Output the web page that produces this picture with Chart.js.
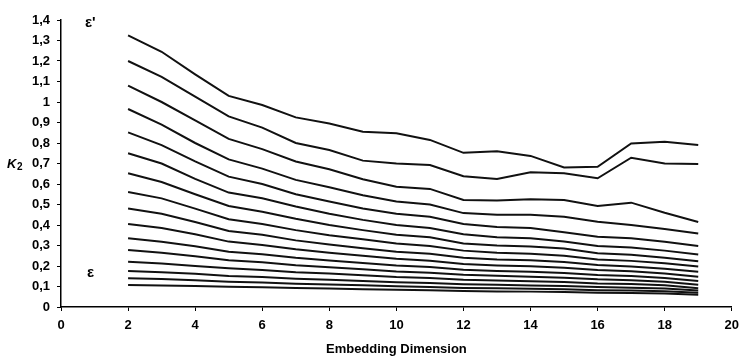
<!DOCTYPE html>
<html><head><meta charset="utf-8">
<script src="https://cdn.jsdelivr.net/npm/chart.js@4.4.0/dist/chart.umd.min.js"></script>
<style>html,body{margin:0;padding:0;background:#fff;}</style>
</head><body>
<canvas id="c" width="746" height="357" style="width:746px;height:357px;display:block"></canvas>
<script>
// Embedding dimensions (x)
const dims = [2,3,4,5,6,7,8,9,10,11,12,13,14,15,16,17,18,19];
// K2 curves, from largest epsilon' (top) down to smallest epsilon (bottom)
const L1  = [1.325,1.245,1.135,1.030,0.985,0.925,0.895,0.855,0.848,0.815,0.752,0.760,0.737,0.681,0.684,0.798,0.806,0.790];
const L2  = [1.200,1.123,1.026,0.930,0.875,0.800,0.766,0.714,0.700,0.693,0.638,0.624,0.657,0.652,0.628,0.728,0.700,0.698];
const L3  = [1.080,1.000,0.910,0.820,0.770,0.710,0.672,0.623,0.587,0.576,0.522,0.520,0.525,0.522,0.493,0.509,0.460,0.415];
const L4  = [0.966,0.890,0.800,0.720,0.675,0.620,0.584,0.545,0.515,0.500,0.458,0.450,0.450,0.440,0.416,0.400,0.380,0.358];
const L5  = [0.852,0.790,0.710,0.636,0.600,0.550,0.515,0.480,0.455,0.440,0.405,0.390,0.385,0.365,0.343,0.335,0.318,0.298];
const L6  = [0.750,0.700,0.625,0.558,0.530,0.490,0.455,0.425,0.400,0.385,0.355,0.340,0.335,0.320,0.297,0.290,0.275,0.256];
const L7  = [0.652,0.610,0.550,0.493,0.465,0.430,0.400,0.375,0.353,0.340,0.310,0.300,0.295,0.285,0.262,0.255,0.240,0.223];
const L8  = [0.561,0.530,0.480,0.428,0.405,0.375,0.350,0.330,0.310,0.298,0.275,0.265,0.260,0.250,0.232,0.225,0.213,0.198];
const L9  = [0.481,0.455,0.415,0.371,0.352,0.325,0.305,0.287,0.270,0.260,0.240,0.232,0.228,0.220,0.205,0.198,0.187,0.172];
const L10 = [0.405,0.385,0.355,0.319,0.303,0.282,0.265,0.250,0.235,0.226,0.210,0.203,0.199,0.192,0.180,0.174,0.163,0.148];
const L11 = [0.335,0.318,0.296,0.270,0.257,0.240,0.227,0.215,0.202,0.195,0.182,0.176,0.172,0.166,0.156,0.151,0.142,0.127];
const L12 = [0.278,0.265,0.248,0.228,0.218,0.204,0.194,0.184,0.173,0.167,0.157,0.152,0.148,0.143,0.135,0.131,0.123,0.108];
const L13 = [0.221,0.212,0.200,0.189,0.181,0.170,0.163,0.155,0.146,0.141,0.133,0.129,0.126,0.122,0.115,0.112,0.106,0.092];
const L14 = [0.176,0.170,0.162,0.151,0.146,0.138,0.133,0.127,0.121,0.117,0.111,0.108,0.105,0.102,0.097,0.094,0.090,0.080];
const L15 = [0.140,0.136,0.130,0.123,0.119,0.114,0.110,0.106,0.101,0.098,0.093,0.091,0.089,0.086,0.082,0.080,0.077,0.069];
const L16 = [0.107,0.105,0.102,0.099,0.096,0.093,0.090,0.087,0.084,0.082,0.078,0.076,0.075,0.073,0.070,0.068,0.066,0.060];
const series = [L1,L2,L3,L4,L5,L6,L7,L8,L9,L10,L11,L12,L13,L14,L15,L16];
const xTitle = 'Embedding Dimension';
const topLabel = "ε'";
const bottomLabel = 'ε';

const FONT = '"Liberation Sans", Arial, sans-serif';

const textPlugin = {
  id: 'texts',
  afterDraw(chart) {
    const ctx = chart.ctx;
    ctx.save();
    ctx.fillStyle = '#000';
    ctx.textBaseline = 'alphabetic';
    ctx.textAlign = 'left';
    ctx.font = 'bold 15px ' + FONT;
    ctx.fillText(topLabel, 85, 27);
    ctx.fillText(bottomLabel, 87, 277);
    // Y axis title K2
    ctx.font = 'italic bold 13px ' + FONT;
    ctx.fillText('K', 7, 168);
    ctx.font = 'bold 10px ' + FONT;
    ctx.fillText('2', 17, 170);
    ctx.restore();
  }
};

new Chart(document.getElementById('c'), {
  type: 'line',
  data: {
    datasets: series.map((s, i) => ({
      label: 'eps' + (i + 1),
      data: dims.map((d, j) => ({x: d, y: s[j]})),
      borderColor: '#111',
      borderWidth: 2,
      pointRadius: 0,
      tension: 0,
      fill: false
    }))
  },
  options: {
    responsive: false,
    animation: false,
    devicePixelRatio: 1,
    layout: {padding: {top: 20, right: 9, left: 0, bottom: 0}},
    plugins: {legend: {display: false}, tooltip: {enabled: false}},
    scales: {
      x: {
        type: 'linear', min: 0, max: 20,
        afterFit(scale) { scale.height = 50; },
        ticks: {stepSize: 2, color: '#000', padding: 7, maxRotation: 0,
                font: {family: FONT, size: 13, weight: 'bold'}},
        grid: {display: true, drawOnChartArea: false, drawTicks: true, tickLength: 4, color: '#000', lineWidth: 1},
        border: {display: true, color: '#000', width: 1.5},
        title: {display: true, text: xTitle, color: '#000', padding: {top: 0, bottom: 0},
                font: {family: FONT, size: 13, weight: 'bold'}}
      },
      y: {
        type: 'linear', min: 0, max: 1.4,
        afterFit(scale) { scale.width = 61; },
        ticks: {stepSize: 0.1, color: '#000', padding: 7,
                font: {family: FONT, size: 13, weight: 'bold'},
                callback: v => String(Math.round(v * 10) / 10).replace('.', ',')},
        grid: {display: true, drawOnChartArea: false, drawTicks: true, tickLength: 4, color: '#000', lineWidth: 1},
        border: {display: true, color: '#000', width: 1.5}
      }
    }
  },
  plugins: [textPlugin]
});
</script>
</body></html>
